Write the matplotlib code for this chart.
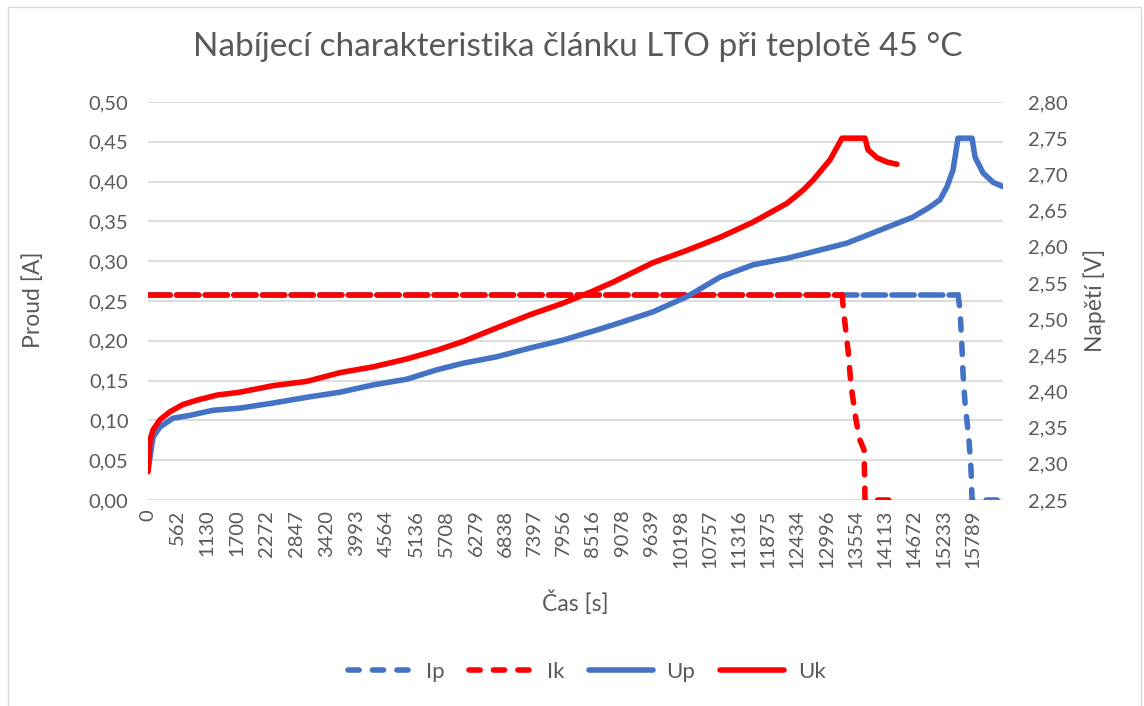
import matplotlib
matplotlib.use("Agg")
import matplotlib.pyplot as plt
from matplotlib.ticker import FuncFormatter, MultipleLocator
from matplotlib.patches import Rectangle

plt.rcParams['font.family'] = ['Lato', 'DejaVu Sans']

# --- data ---
tick_times = [0, 562, 1130, 1700, 2272, 2847, 3420, 3993, 4564, 5136, 5708, 6279,
              6838, 7397, 7956, 8516, 9078, 9639, 10198, 10757, 11316, 11875,
              12434, 12996, 13554, 14113, 14672, 15233, 15789]

# current, primary axis [A]
t_ip = [0, 15512, 15550, 15588, 15608, 15646, 15722, 15761, 15780, 16373]
ip = [0.258, 0.258, 0.239, 0.191, 0.158, 0.122, 0.075, 0.038, 0.0, 0.0]
t_ik = [0, 13290, 13329, 13406, 13463, 13559, 13635, 13712, 13731, 14200]
ik = [0.258, 0.258, 0.232, 0.188, 0.144, 0.100, 0.075, 0.063, 0.0, 0.0]

# voltage, secondary axis [V]
t_up = [0, 96, 230, 479, 804, 1245, 1762, 2394, 3045, 3677, 4309, 4960, 5534,
        6032, 6683, 7315, 7947, 8598, 9039, 9671, 10322, 10954, 11586, 12237,
        12735, 13386, 14018, 14650, 14975, 15167, 15301, 15416, 15512, 15780,
        15837, 15990, 16182, 16373]
up = [2.290, 2.337, 2.351, 2.363, 2.367, 2.374, 2.377, 2.384, 2.392, 2.399,
      2.409, 2.417, 2.430, 2.439, 2.448, 2.460, 2.471, 2.485, 2.495, 2.510,
      2.531, 2.558, 2.575, 2.584, 2.593, 2.605, 2.623, 2.641, 2.655, 2.665,
      2.683, 2.706, 2.750, 2.750, 2.724, 2.702, 2.689, 2.683]
t_uk = [0, 38, 96, 230, 421, 670, 938, 1321, 1762, 2394, 3045, 3677, 4309,
        4960, 5534, 6032, 6683, 7315, 7947, 8464, 8905, 9671, 10322, 10954,
        11586, 12237, 12543, 12735, 13060, 13290, 13731, 13788, 13960, 14152,
        14343]
uk = [2.289, 2.333, 2.347, 2.361, 2.372, 2.382, 2.388, 2.395, 2.399, 2.408,
      2.414, 2.426, 2.434, 2.445, 2.457, 2.469, 2.488, 2.506, 2.522, 2.537,
      2.551, 2.578, 2.595, 2.613, 2.634, 2.660, 2.678, 2.692, 2.720, 2.750,
      2.750, 2.734, 2.723, 2.717, 2.714]

BLUE = "#4472C4"
RED = "#FF0000"
TXT = "#595959"
GRID = "#D9D9D9"
LW = 4.0
TICK_FS = 14.5
LABEL_FS = 16.5

fig = plt.figure(figsize=(11.44, 7.06), dpi=100)
fig.patches.append(Rectangle((8 / 1144, -0.01), 1133 / 1144, 1.0, transform=fig.transFigure,
                             fill=False, edgecolor=GRID, lw=1.0))
ax = fig.add_axes([148 / 1144, 1 - 500 / 706, 855 / 1144, 398 / 706])
ax2 = ax.twinx()

def split_plot(axis, t, y, n_flat, color, label):
    # flat part looks almost solid in the original, the drop is clearly dashed
    axis.plot(t[:n_flat], y[:n_flat], color=color, lw=LW, dashes=(4.0, 1.15),
              dash_capstyle='round')
    line, = axis.plot(t[n_flat - 1:], y[n_flat - 1:], color=color, lw=LW,
                      dashes=(2.0, 2.4), dash_capstyle='round', label=label)
    return line

h_ip = split_plot(ax, t_ip, ip, 2, BLUE, "Ip")
h_ik = split_plot(ax, t_ik, ik, 2, RED, "Ik")
h_up, = ax2.plot(t_up, up, color=BLUE, lw=LW, solid_capstyle='round', label="Up")
h_uk, = ax2.plot(t_uk, uk, color=RED, lw=LW, solid_capstyle='round', label="Uk")

ax.set_xlim(0, t_up[-1])
ax.set_ylim(0, 0.5)
ax2.set_ylim(2.25, 2.80)
ax.yaxis.set_major_locator(MultipleLocator(0.05))
ax2.yaxis.set_major_locator(MultipleLocator(0.05))
comma = FuncFormatter(lambda v, p: f"{v:.2f}".replace(".", ","))
ax.yaxis.set_major_formatter(comma)
ax2.yaxis.set_major_formatter(comma)
ax.set_xticks(tick_times)
ax.set_xticklabels([str(t) for t in tick_times], rotation=90)

ax.grid(axis='y', color=GRID, lw=1.3)
ax.set_axisbelow(True)
for a in (ax, ax2):
    for s in a.spines.values():
        s.set_visible(False)
ax.tick_params(axis='y', length=0, pad=14, labelsize=TICK_FS, labelcolor=TXT)
ax.tick_params(axis='x', length=0, pad=7, labelsize=TICK_FS, labelcolor=TXT)
ax2.tick_params(axis='y', length=0, pad=18, labelsize=TICK_FS, labelcolor=TXT)

fig.text(0.505, 1 - 47 / 706, "Nabíjecí charakteristika článku LTO při teplotě 45 °C",
         ha='center', va='center', fontsize=24, color=TXT)
fig.text(33 / 1144, 1 - 300 / 706, "Proud [A]", rotation=90, ha='center', va='center',
         fontsize=LABEL_FS, color=TXT)
fig.text(1095 / 1144, 1 - 300 / 706, "Napětí [V]", rotation=90, ha='center', va='center',
         fontsize=LABEL_FS, color=TXT)
fig.text(575 / 1144, 1 - 603 / 706, "Čas [s]", ha='center', va='center',
         fontsize=LABEL_FS, color=TXT)

fig.legend(handles=[h_ip, h_ik, h_up, h_uk], loc='center', bbox_to_anchor=(0.513, 1 - 672 / 706),
           ncol=4, frameon=False, fontsize=16, handlelength=2.9, handletextpad=0.6,
           columnspacing=1.1, labelcolor=TXT)

fig.savefig("out.png", dpi=100)
